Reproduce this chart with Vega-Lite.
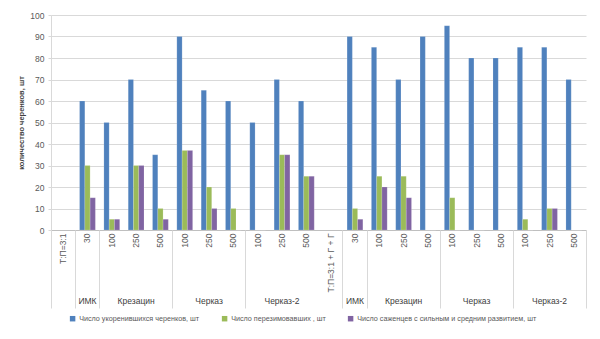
{
  "$schema": "https://vega.github.io/schema/vega-lite/v6.json",
  "width": 535,
  "height": 215,
  "autosize": "none",
  "padding": {"left": 51, "top": 15, "right": 14, "bottom": 109},
  "config": {
    "view": {"stroke": null},
    "font": "Liberation Sans",
    "axis": {"labelFont": "Liberation Sans", "labelColor": "#595959", "labelFontSize": 8.5},
    "legend": {"labelFont": "Liberation Sans", "labelColor": "#595959"}
  },
  "data": {
    "values": [
      {"key": "1|ИМК|30", "series": "Число укоренившихся черенков, шт", "value": 60},
      {"key": "1|ИМК|30", "series": "Число перезимовавших , шт", "value": 30},
      {"key": "1|ИМК|30", "series": "Число саженцев с сильным и средним развитием, шт", "value": 15},
      {"key": "1|Крезацин|100", "series": "Число укоренившихся черенков, шт", "value": 50},
      {"key": "1|Крезацин|100", "series": "Число перезимовавших , шт", "value": 5},
      {"key": "1|Крезацин|100", "series": "Число саженцев с сильным и средним развитием, шт", "value": 5},
      {"key": "1|Крезацин|250", "series": "Число укоренившихся черенков, шт", "value": 70},
      {"key": "1|Крезацин|250", "series": "Число перезимовавших , шт", "value": 30},
      {"key": "1|Крезацин|250", "series": "Число саженцев с сильным и средним развитием, шт", "value": 30},
      {"key": "1|Крезацин|500", "series": "Число укоренившихся черенков, шт", "value": 35},
      {"key": "1|Крезацин|500", "series": "Число перезимовавших , шт", "value": 10},
      {"key": "1|Крезацин|500", "series": "Число саженцев с сильным и средним развитием, шт", "value": 5},
      {"key": "1|Черказ|100", "series": "Число укоренившихся черенков, шт", "value": 90},
      {"key": "1|Черказ|100", "series": "Число перезимовавших , шт", "value": 37},
      {"key": "1|Черказ|100", "series": "Число саженцев с сильным и средним развитием, шт", "value": 37},
      {"key": "1|Черказ|250", "series": "Число укоренившихся черенков, шт", "value": 65},
      {"key": "1|Черказ|250", "series": "Число перезимовавших , шт", "value": 20},
      {"key": "1|Черказ|250", "series": "Число саженцев с сильным и средним развитием, шт", "value": 10},
      {"key": "1|Черказ|500", "series": "Число укоренившихся черенков, шт", "value": 60},
      {"key": "1|Черказ|500", "series": "Число перезимовавших , шт", "value": 10},
      {"key": "1|Черказ|500", "series": "Число саженцев с сильным и средним развитием, шт", "value": 0},
      {"key": "1|Черказ-2|100", "series": "Число укоренившихся черенков, шт", "value": 50},
      {"key": "1|Черказ-2|100", "series": "Число перезимовавших , шт", "value": 0},
      {"key": "1|Черказ-2|100", "series": "Число саженцев с сильным и средним развитием, шт", "value": 0},
      {"key": "1|Черказ-2|250", "series": "Число укоренившихся черенков, шт", "value": 70},
      {"key": "1|Черказ-2|250", "series": "Число перезимовавших , шт", "value": 35},
      {"key": "1|Черказ-2|250", "series": "Число саженцев с сильным и средним развитием, шт", "value": 35},
      {"key": "1|Черказ-2|500", "series": "Число укоренившихся черенков, шт", "value": 60},
      {"key": "1|Черказ-2|500", "series": "Число перезимовавших , шт", "value": 25},
      {"key": "1|Черказ-2|500", "series": "Число саженцев с сильным и средним развитием, шт", "value": 25},
      {"key": "2|ИМК|30", "series": "Число укоренившихся черенков, шт", "value": 90},
      {"key": "2|ИМК|30", "series": "Число перезимовавших , шт", "value": 10},
      {"key": "2|ИМК|30", "series": "Число саженцев с сильным и средним развитием, шт", "value": 5},
      {"key": "2|Крезацин|100", "series": "Число укоренившихся черенков, шт", "value": 85},
      {"key": "2|Крезацин|100", "series": "Число перезимовавших , шт", "value": 25},
      {"key": "2|Крезацин|100", "series": "Число саженцев с сильным и средним развитием, шт", "value": 20},
      {"key": "2|Крезацин|250", "series": "Число укоренившихся черенков, шт", "value": 70},
      {"key": "2|Крезацин|250", "series": "Число перезимовавших , шт", "value": 25},
      {"key": "2|Крезацин|250", "series": "Число саженцев с сильным и средним развитием, шт", "value": 15},
      {"key": "2|Крезацин|500", "series": "Число укоренившихся черенков, шт", "value": 90},
      {"key": "2|Крезацин|500", "series": "Число перезимовавших , шт", "value": 0},
      {"key": "2|Крезацин|500", "series": "Число саженцев с сильным и средним развитием, шт", "value": 0},
      {"key": "2|Черказ|100", "series": "Число укоренившихся черенков, шт", "value": 95},
      {"key": "2|Черказ|100", "series": "Число перезимовавших , шт", "value": 15},
      {"key": "2|Черказ|100", "series": "Число саженцев с сильным и средним развитием, шт", "value": 0},
      {"key": "2|Черказ|250", "series": "Число укоренившихся черенков, шт", "value": 80},
      {"key": "2|Черказ|250", "series": "Число перезимовавших , шт", "value": 0},
      {"key": "2|Черказ|250", "series": "Число саженцев с сильным и средним развитием, шт", "value": 0},
      {"key": "2|Черказ|500", "series": "Число укоренившихся черенков, шт", "value": 80},
      {"key": "2|Черказ|500", "series": "Число перезимовавших , шт", "value": 0},
      {"key": "2|Черказ|500", "series": "Число саженцев с сильным и средним развитием, шт", "value": 0},
      {"key": "2|Черказ-2|100", "series": "Число укоренившихся черенков, шт", "value": 85},
      {"key": "2|Черказ-2|100", "series": "Число перезимовавших , шт", "value": 5},
      {"key": "2|Черказ-2|100", "series": "Число саженцев с сильным и средним развитием, шт", "value": 0},
      {"key": "2|Черказ-2|250", "series": "Число укоренившихся черенков, шт", "value": 85},
      {"key": "2|Черказ-2|250", "series": "Число перезимовавших , шт", "value": 10},
      {"key": "2|Черказ-2|250", "series": "Число саженцев с сильным и средним развитием, шт", "value": 10},
      {"key": "2|Черказ-2|500", "series": "Число укоренившихся черенков, шт", "value": 70},
      {"key": "2|Черказ-2|500", "series": "Число перезимовавших , шт", "value": 0},
      {"key": "2|Черказ-2|500", "series": "Число саженцев с сильным и средним развитием, шт", "value": 0}
    ]
  },
  "resolve": {"axis": {"x": "independent"}},
  "layer": [
    {
      "mark": {"type": "bar", "stroke": "#ffffff", "strokeWidth": 0.3, "strokeOpacity": 0.5},
      "encoding": {
        "x": {
          "field": "key", "type": "nominal",
          "scale": {
            "domain": ["1||Т:П=3:1", "1|ИМК|30", "1|Крезацин|100", "1|Крезацин|250", "1|Крезацин|500", "1|Черказ|100", "1|Черказ|250", "1|Черказ|500", "1|Черказ-2|100", "1|Черказ-2|250", "1|Черказ-2|500", "2||Т:П=3:1 + Г + Г", "2|ИМК|30", "2|Крезацин|100", "2|Крезацин|250", "2|Крезацин|500", "2|Черказ|100", "2|Черказ|250", "2|Черказ|500", "2|Черказ-2|100", "2|Черказ-2|250", "2|Черказ-2|500"],
            "paddingInner": 0, "paddingOuter": 0
          },
          "axis": {
            "orient": "bottom", "title": null,
            "labelExpr": "split(datum.value, '|')[2]",
            "labelAngle": -90, "labelAlign": "right", "labelBaseline": "middle",
            "labelPadding": 3, "ticks": false, "domainColor": "#BFBFBF", "grid": false
          }
        },
        "xOffset": {
          "field": "series", "type": "nominal",
          "scale": {"domain": ["Число укоренившихся черенков, шт", "Число перезимовавших , шт", "Число саженцев с сильным и средним развитием, шт"], "paddingInner": 0, "paddingOuter": 0.81}
        },
        "y": {
          "field": "value", "type": "quantitative",
          "scale": {"domain": [0, 100]},
          "axis": {
            "title": "количество черенков, шт", "titleFontSize": 7.5, "titleFontWeight": "bold", "titleColor": "#404040", "titlePadding": 4,
            "values": [0, 10, 20, 30, 40, 50, 60, 70, 80, 90, 100],
            "gridColor": "#D9D9D9", "domainColor": "#D9D9D9", "tickColor": "#D9D9D9", "tickSize": 3, "labelPadding": 4
          }
        },
        "color": {
          "field": "series", "type": "nominal", "title": null,
          "scale": {"domain": ["Число укоренившихся черенков, шт", "Число перезимовавших , шт", "Число саженцев с сильным и средним развитием, шт"], "range": ["#4F81BD", "#9BBB59", "#8064A2"]},
          "legend": {"orient": "none", "direction": "horizontal", "legendX": 18, "legendY": 300, "symbolType": "square", "symbolSize": 30, "symbolStrokeWidth": 0, "labelFontSize": 7.2, "labelLimit": 0, "labelOffset": 3, "columnPadding": 21}
        }
      }
    },
    {
      "mark": {"type": "point", "opacity": 0},
      "encoding": {
        "x": {
          "field": "key", "type": "nominal",
          "axis": {"orient": "bottom", "title": null, "labels": false, "domain": false, "grid": false,
            "values": ["1||Т:П=3:1", "1|ИМК|30", "1|Крезацин|100", "1|Черказ|100", "1|Черказ-2|100", "2|ИМК|30", "2|Крезацин|100", "2|Черказ|100", "2|Черказ-2|100"],
            "bandPosition": 0, "tickSize": 78, "tickColor": "#D9D9D9"}
        }
      }
    },
    {
      "mark": {"type": "point", "opacity": 0},
      "encoding": {
        "x": {
          "field": "key", "type": "nominal",
          "axis": {"orient": "bottom", "title": null, "labels": false, "domain": false, "grid": false,
            "values": ["2|Черказ-2|500"],
            "bandPosition": 1, "tickSize": 78, "tickColor": "#D9D9D9"}
        }
      }
    },
    {
      "mark": {"type": "point", "opacity": 0},
      "encoding": {
        "x": {
          "field": "key", "type": "nominal",
          "axis": {"orient": "bottom", "title": null, "ticks": false, "domain": false, "grid": false,
            "values": ["1|ИМК|30", "1|Крезацин|250", "1|Черказ|250", "1|Черказ-2|250", "2|ИМК|30", "2|Крезацин|250", "2|Черказ|250", "2|Черказ-2|250"],
            "labelExpr": "split(datum.value, '|')[1]",
            "labelAngle": 0, "labelAlign": "center", "labelBaseline": "middle", "labelPadding": 70, "labelFontSize": 8.5, "labelColor": "#404040"}
        }
      }
    }
  ]
}
